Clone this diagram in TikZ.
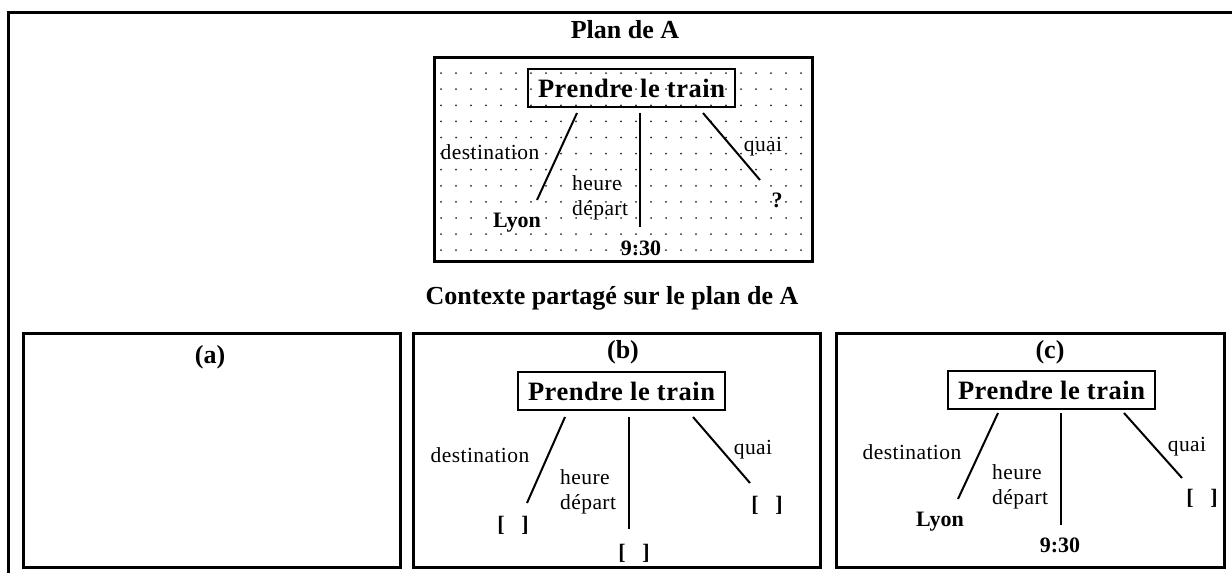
\documentclass[tikz,border=0pt]{standalone}
\usepackage{fontspec}
\setmainfont{Liberation Serif}
\begin{document}
\begin{tikzpicture}[x=1pt,y=-1pt,
    frame/.style={line width=3pt},
    task/.style={draw,line width=2.7pt,minimum width=207pt,minimum height=38pt,inner sep=0pt,font=\fontsize{26.5}{28}\selectfont\bfseries\addfontfeatures{LetterSpace=2}},
    head/.style={font=\fontsize{26}{28}\selectfont\bfseries},
    role/.style={font=\fontsize{21.5}{25}\selectfont\addfontfeatures{LetterSpace=2},align=left,inner sep=0pt},
    filler/.style={font=\fontsize{22}{24}\selectfont\bfseries,inner sep=0pt},
    link/.style={line width=2pt}]
    \useasboundingbox (0,0) rectangle (1232,573);
    \draw[frame] (8,12) rectangle (1250,590);
    % plan de A
    \node[head] (plan) at (625,30) {Plan de A};
    \foreach \x in {441,456,...,802}
      \foreach \y in {57,73.1,...,251}
        \fill[black!85] (\x,\y) circle[radius=1pt];
    \draw[frame] (434,57) rectangle (812,261);
    \node[task] (pA) at (631.5,88) {Prendre le train};
    \node[role] (destA) at (490,152) {destination};
    \node[role,anchor=west] (heureA) at (572,198) {heure\\départ};
    \node[role] (quaiA) at (763,147) {quai};
    \node[filler] (lyonA) at (517,223) {Lyon};
    \node[filler] (timeA) at (641,248) {9:30};
    \node[filler] (gapA) at (777,200) {?};
    \coordinate (dA0) at (577,113); \coordinate (dA1) at (537,200);
    \coordinate (hA0) at (640,113); \coordinate (hA1) at (640,227);
    \coordinate (qA0) at (703,113); \coordinate (qA1) at (760,180);
    \draw[link] (dA0) -- (dA1);
    \draw[link] (hA0) -- (hA1);
    \draw[link] (qA0) -- (qA1);
    \node[head] (shared) at (612,298) {Contexte partagé sur le plan de A};
    % (a)
    \draw[frame] (23,333) rectangle (400,567);
    \node[head] (la) at (210,357) {(a)};
    % (b)
    \draw[frame] (413,333) rectangle (820,567);
    \node[head] (lb) at (623,352) {(b)};
    \node[task] (pb) at (621.5,391) {Prendre le train};
    \node[role] (destb) at (480,455) {destination};
    \node[role,anchor=west] (heureb) at (560,492) {heure\\départ};
    \node[role] (quaib) at (753,450) {quai};
    \node[filler] (gapb1) at (513,525) {[\hspace{0.75em}]};
    \node[filler] (gapb2) at (634,553) {[\hspace{0.75em}]};
    \node[filler] (gapb3) at (767,505) {[\hspace{0.75em}]};
    \coordinate (db0) at (565,417); \coordinate (db1) at (527,503);
    \coordinate (hb0) at (629,417); \coordinate (hb1) at (629,529);
    \coordinate (qb0) at (693,417); \coordinate (qb1) at (750,483);
    \draw[link] (db0) -- (db1);
    \draw[link] (hb0) -- (hb1);
    \draw[link] (qb0) -- (qb1);
    % (c)
    \draw[frame] (836,333) rectangle (1224,567);
    \node[head] (lc) at (1050,352) {(c)};
    \node[task] (pc) at (1051.5,390) {Prendre le train};
    \node[role] (destc) at (912,452) {destination};
    \node[role,anchor=west] (heurec) at (992,487) {heure\\départ};
    \node[role] (quaic) at (1187,447) {quai};
    \node[filler] (lyonc) at (940,522) {Lyon};
    \node[filler] (timec) at (1060,545) {9:30};
    \node[filler] (gapc) at (1202,498) {[\hspace{0.75em}]};
    \coordinate (dc0) at (998,413); \coordinate (dc1) at (958,499);
    \coordinate (hc0) at (1061,413); \coordinate (hc1) at (1061,525);
    \coordinate (qc0) at (1124,413); \coordinate (qc1) at (1182,478);
    \draw[link] (dc0) -- (dc1);
    \draw[link] (hc0) -- (hc1);
    \draw[link] (qc0) -- (qc1);
\end{tikzpicture}
\end{document}
